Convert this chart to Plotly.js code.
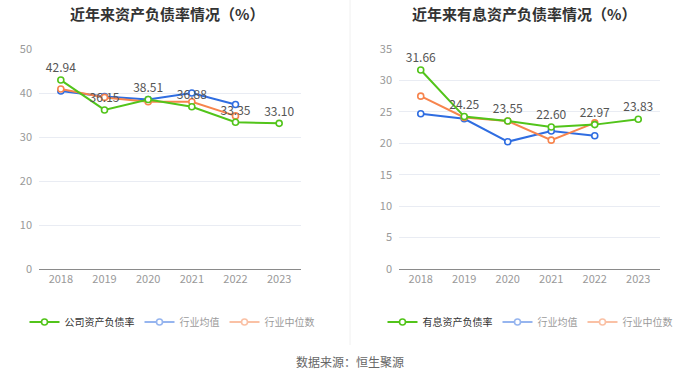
<!DOCTYPE html>
<html><head><meta charset="utf-8">
<script src="https://cdn.plot.ly/plotly-3.0.1.min.js"></script>
<style>html,body{margin:0;padding:0;background:#fff}#c{width:700px;height:378px}</style>
</head><body><div id="c"></div>
<script>
const years = ['2018','2019','2020','2021','2022','2023'];
const industryYears = ['2018','2019','2020','2021','2022'];
// Left chart: 资产负债率
const companyDebt = [42.94, 36.15, 38.51, 36.88, 33.35, 33.10];
const industryAvgDebt = [40.45, 39.2, 38.5, 40.0, 37.4];
const industryMedDebt = [40.9, 39.0, 38.0, 38.0, 34.8];
// Right chart: 有息资产负债率
const companyIB = [31.66, 24.25, 23.55, 22.60, 22.97, 23.83];
const industryAvgIB = [24.7, 23.9, 20.25, 21.95, 21.2];
const industryMedIB = [27.5, 24.1, 23.55, 20.5, 23.25];

const GREEN = '#52c41a', BLUE = '#2f6de1', ORANGE = '#f7844d';
const FONT = '"Noto Sans CJK SC", "Noto Sans", sans-serif';

function mk(x, y, color, name, xa, ya, leg, opts) {
  return Object.assign({
    type: 'scatter', mode: 'lines+markers', x: x, y: y, name: name,
    xaxis: xa, yaxis: ya, legend: leg,
    line: {color: color, width: 2},
    marker: {symbol: 'circle', size: 6, color: '#fff', line: {color: color, width: 1.6}},
    hoverinfo: 'skip', cliponaxis: false
  }, opts || {});
}
function fmt(a){return a.map(v=>v.toFixed(2));}

const traces = [
  mk(industryYears, industryAvgDebt, BLUE, '行业均值', 'x', 'y', 'legend', {showlegend:false}),
  mk(industryYears, industryMedDebt, ORANGE, '行业中位数', 'x', 'y', 'legend', {showlegend:false}),
  mk(years, companyDebt, GREEN, '公司资产负债率', 'x', 'y', 'legend', {mode:'lines+markers+text', text: fmt(companyDebt), textposition:'top center', textfont:{size:12, color:'#555', family:FONT}, legendrank:1}),
  mk(industryYears, industryAvgDebt, BLUE, '行业均值', 'x', 'y', 'legend', {visible:'legendonly', legendrank:2}),
  mk(industryYears, industryMedDebt, ORANGE, '行业中位数', 'x', 'y', 'legend', {visible:'legendonly', legendrank:3}),

  mk(industryYears, industryAvgIB, BLUE, '行业均值', 'x2', 'y2', 'legend2', {showlegend:false}),
  mk(industryYears, industryMedIB, ORANGE, '行业中位数', 'x2', 'y2', 'legend2', {showlegend:false}),
  mk(years, companyIB, GREEN, '有息资产负债率', 'x2', 'y2', 'legend2', {mode:'lines+markers+text', text: fmt(companyIB), textposition:'top center', textfont:{size:12, color:'#555', family:FONT}, legendrank:1}),
  mk(industryYears, industryAvgIB, BLUE, '行业均值', 'x2', 'y2', 'legend2', {visible:'legendonly', legendrank:2}),
  mk(industryYears, industryMedIB, ORANGE, '行业中位数', 'x2', 'y2', 'legend2', {visible:'legendonly', legendrank:3})
];

const yd = [(378-269)/378, (378-49)/378];
const xaxisBase = {type:'category', categoryorder:'array', categoryarray: years, range:[-0.5,5.5],
  showgrid:false, zeroline:false, showline:true, linecolor:'#8a8a8a', linewidth:1,
  ticks:'', tickfont:{size:11, color:'#999', family:FONT}, fixedrange:true};
const yaxisBase = {showgrid:true, gridcolor:'#e9ecf3', gridwidth:1, zeroline:false, showline:false,
  ticks:'', tickfont:{size:11, color:'#999', family:FONT}, ticklabelstandoff:6, fixedrange:true};

const layout = {
  width:700, height:378, margin:{l:0,r:0,t:0,b:0},
  paper_bgcolor:'#fff', plot_bgcolor:'rgba(0,0,0,0)',
  font:{family:FONT, color:'#333'},
  xaxis: Object.assign({}, xaxisBase, {domain:[39/700, 301/700], anchor:'y'}),
  yaxis: Object.assign({}, yaxisBase, {domain:yd, range:[0,50], dtick:10, anchor:'x'}),
  xaxis2: Object.assign({}, xaxisBase, {domain:[399/700, 660/700], anchor:'y2'}),
  yaxis2: Object.assign({}, yaxisBase, {domain:yd, range:[0,35], dtick:5, anchor:'x2'}),
  legend: {orientation:'h', x:172/700, xanchor:'center', y:1-322/378, yanchor:'middle',
    font:{size:10, color:'#333', family:FONT}, itemclick:false, itemdoubleclick:false, traceorder:'normal', itemwidth:30},
  legend2: {orientation:'h', x:530/700, xanchor:'center', y:1-322/378, yanchor:'middle',
    font:{size:10, color:'#333', family:FONT}, itemclick:false, itemdoubleclick:false, traceorder:'normal', itemwidth:30},
  annotations: [
    {text:'<b>近年来资产负债率情况（%）</b>', xref:'paper', yref:'paper', x:167/700, y:1-13/378, xanchor:'center', yanchor:'middle', showarrow:false, font:{size:15, color:'#333', family:FONT}},
    {text:'<b>近年来有息资产负债率情况（%）</b>', xref:'paper', yref:'paper', x:524/700, y:1-13/378, xanchor:'center', yanchor:'middle', showarrow:false, font:{size:15, color:'#333', family:FONT}},
    {text:'数据来源：恒生聚源', xref:'paper', yref:'paper', x:0.5, y:1-361/378, xanchor:'center', yanchor:'middle', showarrow:false, font:{size:12, color:'#666', family:FONT}}
  ],
  shapes: [
    {type:'line', xref:'paper', yref:'paper', x0:0.5, x1:0.5, y0:1-345/378, y1:1, line:{color:'#f0f0f0', width:1}}
  ]
};
Plotly.newPlot('c', traces, layout, {staticPlot:true, displayModeBar:false});
</script></body></html>
